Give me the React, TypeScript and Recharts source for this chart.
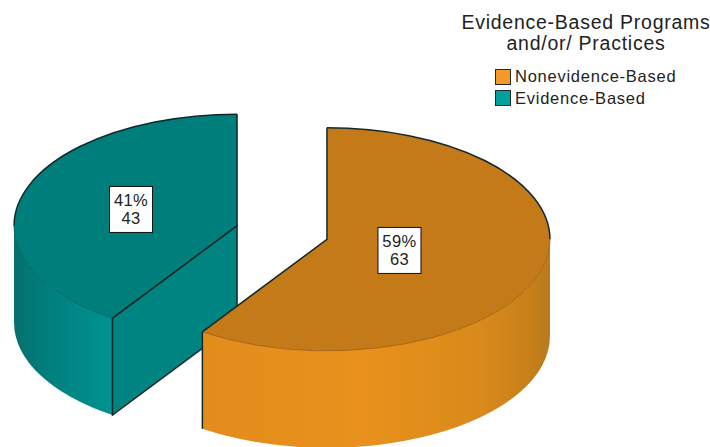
import React from 'react';
import { PieChart, Pie, Legend } from 'recharts';

const names = ['Evidence-Based', 'Nonevidence-Based'];
const counts = [43, 63];
const legendTitle = ['Evidence-Based Programs', 'and/or/ Practices'];

// Teal goes first so the orange slice paints over it, the legend lists orange on top
const chartData = names.map((name, i) => ({ name, value: counts[i] }));
const total = counts.reduce((sum, v) => sum + v, 0);

const TILT = 0.5; // vertical squash of the disc
const DEPTH = 97; // wall height
const EXPLODE = 47;
const EDGE = '#14282a';

const looks = [
  {
    top: '#007e7c',
    seam: '#006463',
    cut: '#008482',
    swatch: '#00a09e',
    labelAt: 0.497,
    wall: [
      [0, '#066f6f'],
      [0.35, '#007f7e'],
      [1, '#009391'],
    ],
  },
  {
    top: '#c47a18',
    seam: '#a86810',
    cut: '#c47a18',
    swatch: '#f59a26',
    labelAt: 0.34,
    wall: [
      [0, '#e28c1c'],
      [0.45, '#e9911c'],
      [0.8, '#d98a1a'],
      [0.94, '#c8801a'],
      [1, '#b67a1e'],
    ],
  },
];

const rad = (deg: number) => (deg * Math.PI) / 180;

function SliceShape(props: any) {
  const { cx, cy, outerRadius: r, startAngle, endAngle, index } = props;
  const look = looks[index];
  const ry = r * TILT;
  const mid = rad((startAngle + endAngle) / 2);
  const ox = cx + Math.cos(mid) * EXPLODE;
  const oy = cy - Math.sin(mid) * EXPLODE * TILT;
  const px = (a: number) => ox + r * Math.cos(rad(a));
  const py = (a: number) => oy - ry * Math.sin(rad(a));
  const arc = (a: number, b: number, dy = 0) =>
    `A ${r} ${ry} 0 ${Math.abs(b - a) > 180 ? 1 : 0} ${b > a ? 0 : 1} ${px(b)} ${py(b) + dy}`;

  // the walls only show on the front half of the rim
  const wallFrom = Math.max(startAngle, 180);
  const wallTo = Math.min(endAngle, 360);
  const rearFrom = startAngle;
  const rearTo = Math.min(endAngle, 180);
  const rearFrom2 = Math.max(startAngle, 360);
  const gradId = `wall-${index}`;

  const wall = `M ${px(wallFrom)} ${py(wallFrom)} ${arc(wallFrom, wallTo)} L ${px(wallTo)} ${py(wallTo) + DEPTH} ${arc(wallTo, wallFrom, DEPTH)} Z`;
  const face = `M ${ox} ${oy} L ${px(startAngle)} ${py(startAngle)} ${arc(startAngle, endAngle)} Z`;
  const endCutShows = Math.cos(rad(endAngle)) < -0.01;
  const xs = [px(wallFrom), px(wallTo)];

  return (
    <g>
      <defs>
        <linearGradient
          id={gradId}
          gradientUnits="userSpaceOnUse"
          x1={Math.min(...xs)}
          x2={Math.max(...xs)}
          y1={0}
          y2={0}
        >
          {look.wall.map(([at, color]) => (
            <stop key={at as number} offset={at as number} stopColor={color as string} />
          ))}
        </linearGradient>
      </defs>
      <path d={wall} fill={`url(#${gradId})`} />
      {endCutShows && (
        <path
          d={`M ${ox} ${oy} L ${px(endAngle)} ${py(endAngle)} l 0 ${DEPTH} L ${ox} ${oy + DEPTH} Z`}
          fill={look.cut}
          stroke={EDGE}
          strokeWidth={1.5}
        />
      )}
      <path d={face} fill={look.top} />
      <path
        d={`M ${px(wallFrom)} ${py(wallFrom)} ${arc(wallFrom, wallTo)}`}
        fill="none"
        stroke={look.seam}
        strokeWidth={1}
      />
      {rearTo > rearFrom && (
        <path
          d={`M ${px(rearFrom)} ${py(rearFrom)} ${arc(rearFrom, rearTo)}`}
          fill="none"
          stroke={EDGE}
          strokeWidth={1.5}
        />
      )}
      {endAngle > rearFrom2 && (
        <path
          d={`M ${px(rearFrom2)} ${py(rearFrom2)} ${arc(rearFrom2, endAngle)}`}
          fill="none"
          stroke={EDGE}
          strokeWidth={1.5}
        />
      )}
      {/* straight cut edges on top of the disc */}
      <path
        d={`M ${px(startAngle)} ${py(startAngle)} L ${ox} ${oy} L ${px(endAngle)} ${py(endAngle)}`}
        fill="none"
        stroke={EDGE}
        strokeWidth={1.5}
      />
      {!endCutShows && (
        <path
          d={`M ${px(startAngle)} ${py(startAngle)} l 0 ${DEPTH}`}
          fill="none"
          stroke={EDGE}
          strokeWidth={1.5}
        />
      )}
    </g>
  );
}

function SliceLabel(props: any) {
  const { cx, cy, midAngle, outerRadius: r, value, index } = props;
  const at = looks[index].labelAt;
  const a = rad(midAngle);
  const x = cx + Math.cos(a) * (EXPLODE + r * at);
  const y = cy - Math.sin(a) * (EXPLODE + r * at) * TILT;
  const textStyle = { fontFamily: 'Liberation Sans', fontSize: 16.5, letterSpacing: 0.4, fill: '#222' };
  return (
    <g>
      <rect x={x - 21.5} y={y - 23} width={43} height={46} fill="#fff" stroke="#111" strokeWidth={1} />
      <text x={x} y={y - 3} textAnchor="middle" style={textStyle}>
        {Math.round((value / total) * 100)}%
      </text>
      <text x={x} y={y + 15} textAnchor="middle" style={textStyle}>
        {value}
      </text>
    </g>
  );
}

function LegendBox() {
  const order = [1, 0];
  return (
    <div style={{ fontFamily: 'Liberation Sans', color: '#222', width: 260 }}>
      <div style={{ textAlign: 'center', fontSize: 19.5, lineHeight: '21px', letterSpacing: 0.75 }}>
        {legendTitle.map((line) => (
          <div key={line}>{line}</div>
        ))}
      </div>
      <div style={{ position: 'absolute', left: 39, top: 54 }}>
        {order.map((i) => (
          <div
            key={i}
            style={{ display: 'flex', alignItems: 'center', height: 21.5, fontSize: 16.5, letterSpacing: 0.75 }}
          >
            <span
              style={{
                width: 14,
                height: 14,
                marginRight: 4,
                background: looks[i].swatch,
                border: '1.5px solid #1c2a2a',
              }}
            />
            {names[i]}
          </div>
        ))}
      </div>
    </div>
  );
}

export default function App() {
  return (
    <div style={{ position: 'absolute', left: 0, top: 0, background: '#fff' }}>
      <PieChart width={710} height={447} margin={{ top: 0, right: 0, bottom: 0, left: 0 }}>
        <Pie
          data={chartData}
          dataKey="value"
          nameKey="name"
          cx={282}
          cy={232.5}
          outerRadius={223}
          startAngle={90}
          endAngle={450}
          stroke="none"
          shape={SliceShape}
          label={SliceLabel}
          labelLine={false}
          isAnimationActive={false}
        />
        <Legend content={<LegendBox />} wrapperStyle={{ position: 'absolute', left: 456, top: 12, width: 260 }} />
      </PieChart>
    </div>
  );
}
